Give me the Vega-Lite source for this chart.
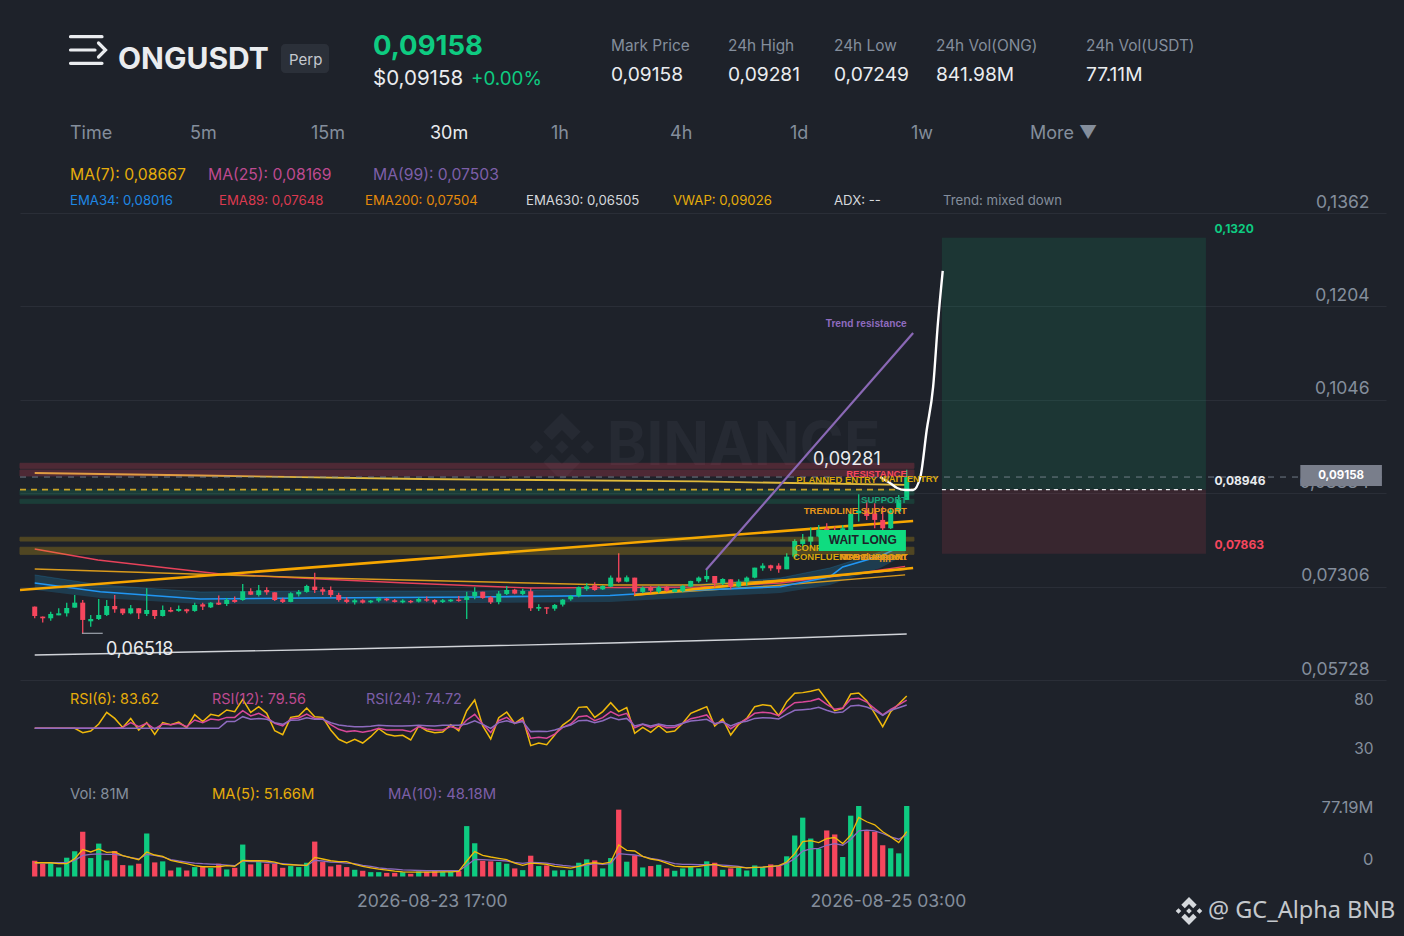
{
  "$schema": "https://vega.github.io/schema/vega-lite/v6.json",
  "width": 1366,
  "height": 936,
  "autosize": {"type": "none"},
  "padding": {"left": 20, "right": 18, "top": 0, "bottom": 0},
  "background": "#1e222a",
  "config": {"font": "Inter", "view": {"stroke": null}},
  "datasets": {
    "candles": [
      {"i":0,"o":0.06968,"h":0.06968,"l":0.06771,"c":0.0681,"v":18.1,"r6":51.65,"r12":51.65,"r24":51.65,"m5":15.8,"m10":15.8},
      {"i":1,"o":0.06799,"h":0.06799,"l":0.06698,"c":0.06771,"v":14.7,"r6":51.65,"r12":51.65,"r24":51.65,"m5":15.8,"m10":15.8},
      {"i":2,"o":0.06771,"h":0.06883,"l":0.06731,"c":0.06844,"v":15.4,"r6":51.65,"r12":51.65,"r24":51.65,"m5":15.8,"m10":15.8},
      {"i":3,"o":0.06821,"h":0.0694,"l":0.06821,"c":0.06855,"v":10.4,"r6":51.65,"r12":51.65,"r24":51.65,"m5":14.7,"m10":15.8},
      {"i":4,"o":0.06855,"h":0.07035,"l":0.06799,"c":0.06945,"v":21.6,"r6":51.65,"r12":51.65,"r24":51.65,"m5":14.7,"m10":15.8},
      {"i":5,"o":0.06951,"h":0.07165,"l":0.06951,"c":0.07035,"v":29,"r6":51.65,"r12":51.65,"r24":51.65,"m5":20.5,"m10":18.5},
      {"i":6,"o":0.07035,"h":0.0708,"l":0.06518,"c":0.06743,"v":51.3,"r6":47.4,"r12":51.65,"r24":51.65,"m5":30.9,"m10":24.3},
      {"i":7,"o":0.0672,"h":0.06827,"l":0.0663,"c":0.06759,"v":21.2,"r6":49,"r12":51.65,"r24":51.65,"m5":28.2,"m10":25.5},
      {"i":8,"o":0.06759,"h":0.07097,"l":0.06743,"c":0.06827,"v":37.8,"r6":55.9,"r12":51.65,"r24":51.65,"m5":31.7,"m10":25.9},
      {"i":9,"o":0.06827,"h":0.0708,"l":0.0681,"c":0.06979,"v":18.5,"r6":67.5,"r12":51.65,"r24":51.65,"m5":27.8,"m10":25.5},
      {"i":10,"o":0.06979,"h":0.07165,"l":0.06866,"c":0.06923,"v":29.3,"r6":61.5,"r12":51.65,"r24":51.65,"m5":28.2,"m10":25.5},
      {"i":11,"o":0.06934,"h":0.06934,"l":0.06827,"c":0.06855,"v":13.1,"r6":52.6,"r12":52.6,"r24":51.65,"m5":23.9,"m10":23.9},
      {"i":12,"o":0.06855,"h":0.06996,"l":0.06838,"c":0.0694,"v":12.7,"r6":61.5,"r12":57.3,"r24":51.65,"m5":21.6,"m10":21.6},
      {"i":13,"o":0.0694,"h":0.0694,"l":0.06759,"c":0.06855,"v":14.7,"r6":50,"r12":53.3,"r24":51.65,"m5":19.3,"m10":20.1},
      {"i":14,"o":0.06844,"h":0.07277,"l":0.0681,"c":0.06911,"v":49.4,"r6":57.3,"r12":56.6,"r24":51.65,"m5":28.2,"m10":25.5},
      {"i":15,"o":0.06911,"h":0.06911,"l":0.06759,"c":0.0681,"v":16.2,"r6":45.7,"r12":51,"r24":51.65,"m5":24.7,"m10":24.3},
      {"i":16,"o":0.0681,"h":0.06985,"l":0.06799,"c":0.06911,"v":17.4,"r6":57.3,"r12":55.9,"r24":51.65,"m5":23.2,"m10":22.4},
      {"i":17,"o":0.06911,"h":0.06956,"l":0.06872,"c":0.06883,"v":6.9,"r6":55.3,"r12":55.3,"r24":51.65,"m5":18.5,"m10":19.3},
      {"i":18,"o":0.06895,"h":0.06985,"l":0.06883,"c":0.06928,"v":10.4,"r6":57.9,"r12":56.6,"r24":51.65,"m5":16.6,"m10":17.8},
      {"i":19,"o":0.06923,"h":0.06934,"l":0.06855,"c":0.06889,"v":6.9,"r6":52.3,"r12":53.3,"r24":51.65,"m5":14.7,"m10":16.6},
      {"i":20,"o":0.06895,"h":0.07035,"l":0.06883,"c":0.06996,"v":10.8,"r6":65.2,"r12":59.9,"r24":51.65,"m5":12.4,"m10":15.4},
      {"i":21,"o":0.07007,"h":0.07035,"l":0.06911,"c":0.06968,"v":10.8,"r6":58.3,"r12":57.3,"r24":51.65,"m5":11.2,"m10":14.7},
      {"i":22,"o":0.06956,"h":0.07047,"l":0.06945,"c":0.07035,"v":9.7,"r6":65.5,"r12":60.9,"r24":51.65,"m5":11.2,"m10":14.3},
      {"i":23,"o":0.07035,"h":0.07154,"l":0.06996,"c":0.07002,"v":14.7,"r6":63.9,"r12":59.9,"r24":51.65,"m5":11.2,"m10":13.9},
      {"i":24,"o":0.07013,"h":0.07114,"l":0.06979,"c":0.0708,"v":8.1,"r6":69.8,"r12":62.5,"r24":58.3,"m5":12.4,"m10":13.1},
      {"i":25,"o":0.0708,"h":0.07137,"l":0.07035,"c":0.07047,"v":10,"r6":68.2,"r12":62.5,"r24":58.3,"m5":11.6,"m10":12.4},
      {"i":26,"o":0.0708,"h":0.07351,"l":0.07069,"c":0.07227,"v":36.7,"r6":80.4,"r12":69.1,"r24":63.2,"m5":18.5,"m10":17.8},
      {"i":27,"o":0.07227,"h":0.07277,"l":0.07165,"c":0.0717,"v":13.9,"r6":67.5,"r12":63.9,"r24":60.6,"m5":18.1,"m10":17},
      {"i":28,"o":0.07165,"h":0.07334,"l":0.07137,"c":0.07244,"v":16.6,"r6":73.1,"r12":66.5,"r24":61.5,"m5":18.1,"m10":17},
      {"i":29,"o":0.07249,"h":0.07294,"l":0.0717,"c":0.0721,"v":14.7,"r6":66.5,"r12":62.5,"r24":60.6,"m5":17.8,"m10":16.2},
      {"i":30,"o":0.0721,"h":0.0721,"l":0.07064,"c":0.0708,"v":14.7,"r6":49.3,"r12":56.6,"r24":57.3,"m5":16.6,"m10":15.4},
      {"i":31,"o":0.07092,"h":0.0712,"l":0.0703,"c":0.07047,"v":10,"r6":45.4,"r12":54,"r24":55.6,"m5":13.9,"m10":14.7},
      {"i":32,"o":0.07047,"h":0.0721,"l":0.07041,"c":0.07193,"v":12,"r6":62.5,"r12":60.9,"r24":59.6,"m5":13.5,"m10":13.9},
      {"i":33,"o":0.07176,"h":0.07249,"l":0.07137,"c":0.07216,"v":10.8,"r6":63.9,"r12":61.9,"r24":59.9,"m5":13.1,"m10":13.1},
      {"i":34,"o":0.07216,"h":0.07339,"l":0.07204,"c":0.07317,"v":15.8,"r6":71.8,"r12":65.8,"r24":62.2,"m5":12.7,"m10":12.4},
      {"i":35,"o":0.07306,"h":0.07542,"l":0.07199,"c":0.07249,"v":40.1,"r6":63.2,"r12":61.5,"r24":60.6,"m5":22,"m10":18.5},
      {"i":36,"o":0.07261,"h":0.07294,"l":0.07165,"c":0.07221,"v":16.6,"r6":62.5,"r12":60.9,"r24":60.6,"m5":20.1,"m10":17.8},
      {"i":37,"o":0.07249,"h":0.07306,"l":0.07126,"c":0.07165,"v":11.6,"r6":50,"r12":55.3,"r24":57.3,"m5":18.1,"m10":16.6},
      {"i":38,"o":0.07165,"h":0.07204,"l":0.07052,"c":0.07081,"v":13.5,"r6":40.8,"r12":50.7,"r24":54.9,"m5":17,"m10":16.2},
      {"i":39,"o":0.07086,"h":0.07126,"l":0.07024,"c":0.07047,"v":10.8,"r6":37.1,"r12":48.4,"r24":54,"m5":17,"m10":15.4},
      {"i":40,"o":0.07041,"h":0.07103,"l":0.07002,"c":0.07075,"v":7.7,"r6":40.8,"r12":49.3,"r24":53.3,"m5":13.9,"m10":14.7},
      {"i":41,"o":0.07075,"h":0.07092,"l":0.07019,"c":0.07036,"v":6.6,"r6":37.1,"r12":47.7,"r24":53.3,"m5":11.6,"m10":12.7},
      {"i":42,"o":0.07041,"h":0.07081,"l":0.07024,"c":0.07069,"v":5,"r6":43.4,"r12":49.3,"r24":53.6,"m5":10,"m10":11.6},
      {"i":43,"o":0.07069,"h":0.07126,"l":0.07041,"c":0.07109,"v":5,"r6":51.3,"r12":51.65,"r24":54.6,"m5":8.5,"m10":10},
      {"i":44,"o":0.07103,"h":0.07114,"l":0.07058,"c":0.07075,"v":4.2,"r6":45.7,"r12":50,"r24":54.3,"m5":7.3,"m10":8.9},
      {"i":45,"o":0.07075,"h":0.07097,"l":0.07036,"c":0.07047,"v":4.2,"r6":44.1,"r12":50,"r24":54,"m5":6.2,"m10":8.5},
      {"i":46,"o":0.07041,"h":0.07092,"l":0.07024,"c":0.07069,"v":5,"r6":44.7,"r12":50,"r24":54,"m5":5.4,"m10":7.7},
      {"i":47,"o":0.07064,"h":0.07081,"l":0.07024,"c":0.07041,"v":3.1,"r6":40.1,"r12":48.4,"r24":54.3,"m5":5,"m10":7.3},
      {"i":48,"o":0.07052,"h":0.07126,"l":0.07036,"c":0.07097,"v":5.8,"r6":54,"r12":53.3,"r24":54.6,"m5":5,"m10":6.9},
      {"i":49,"o":0.07092,"h":0.07137,"l":0.07052,"c":0.07069,"v":5.4,"r6":49.3,"r12":51,"r24":54.3,"m5":5,"m10":6.6},
      {"i":50,"o":0.07081,"h":0.07092,"l":0.07007,"c":0.07041,"v":6.2,"r6":47.4,"r12":50,"r24":54,"m5":5,"m10":6.6},
      {"i":51,"o":0.07047,"h":0.07097,"l":0.0703,"c":0.07075,"v":5.4,"r6":48,"r12":50,"r24":54.6,"m5":5.4,"m10":6.6},
      {"i":52,"o":0.07058,"h":0.07097,"l":0.07047,"c":0.07086,"v":5.4,"r6":55.3,"r12":53.3,"r24":54.6,"m5":5.4,"m10":6.6},
      {"i":53,"o":0.07086,"h":0.07148,"l":0.07052,"c":0.07064,"v":6.2,"r6":49.3,"r12":51.3,"r24":54.6,"m5":5.8,"m10":6.6},
      {"i":54,"o":0.07081,"h":0.07221,"l":0.0676,"c":0.07137,"v":57.9,"r6":69.1,"r12":59.9,"r24":55.9,"m5":17.8,"m10":12.7},
      {"i":55,"o":0.07143,"h":0.07294,"l":0.07092,"c":0.07216,"v":38.2,"r6":79.7,"r12":65.5,"r24":59.2,"m5":28.6,"m10":19.7},
      {"i":56,"o":0.07221,"h":0.07221,"l":0.07103,"c":0.07114,"v":18.1,"r6":54,"r12":55.9,"r24":55.6,"m5":24.3,"m10":19.3},
      {"i":57,"o":0.07126,"h":0.07148,"l":0.07013,"c":0.07041,"v":17.4,"r6":41.1,"r12":47.4,"r24":51.65,"m5":22.4,"m10":18.9},
      {"i":58,"o":0.07047,"h":0.07233,"l":0.07007,"c":0.07188,"v":16.6,"r6":62.2,"r12":59.2,"r24":57.3,"m5":20.8,"m10":18.5},
      {"i":59,"o":0.07182,"h":0.07317,"l":0.07165,"c":0.07249,"v":14.7,"r6":67.8,"r12":62.5,"r24":59.2,"m5":19.3,"m10":17.8},
      {"i":60,"o":0.07255,"h":0.07272,"l":0.07176,"c":0.07188,"v":9.3,"r6":56.6,"r12":56.6,"r24":56.6,"m5":15.4,"m10":16.2},
      {"i":61,"o":0.07182,"h":0.07272,"l":0.07159,"c":0.07233,"v":7.3,"r6":62.2,"r12":59.9,"r24":58.3,"m5":12.7,"m10":15.1},
      {"i":62,"o":0.07227,"h":0.07278,"l":0.06895,"c":0.0694,"v":23.9,"r6":34.5,"r12":41.8,"r24":48.4,"m5":15.4,"m10":16.2},
      {"i":63,"o":0.06934,"h":0.07007,"l":0.06895,"c":0.06962,"v":12,"r6":37.1,"r12":42.7,"r24":48.7,"m5":14.7,"m10":15.8},
      {"i":64,"o":0.06957,"h":0.06957,"l":0.06844,"c":0.06934,"v":12.7,"r6":35.5,"r12":41.8,"r24":48.4,"m5":13.9,"m10":15.4},
      {"i":65,"o":0.06934,"h":0.07013,"l":0.069,"c":0.06996,"v":6.9,"r6":45,"r12":46,"r24":50,"m5":11.6,"m10":13.9},
      {"i":66,"o":0.07002,"h":0.07097,"l":0.06968,"c":0.07086,"v":7.3,"r6":54.9,"r12":52.6,"r24":52.6,"m5":10.8,"m10":12.7},
      {"i":67,"o":0.07092,"h":0.07165,"l":0.07069,"c":0.07148,"v":7.3,"r6":60.6,"r12":55.9,"r24":54.9,"m5":9.7,"m10":12},
      {"i":68,"o":0.07148,"h":0.07306,"l":0.07126,"c":0.073,"v":15.8,"r6":72.4,"r12":63.2,"r24":59.2,"m5":11.6,"m10":11.6},
      {"i":69,"o":0.07266,"h":0.07362,"l":0.07238,"c":0.07311,"v":19.7,"r6":73.1,"r12":64.2,"r24":59.6,"m5":14.7,"m10":13.1},
      {"i":70,"o":0.07328,"h":0.07379,"l":0.07238,"c":0.07249,"v":18.5,"r6":62.5,"r12":59.2,"r24":57.3,"m5":15.8,"m10":14.7},
      {"i":71,"o":0.07261,"h":0.07328,"l":0.07249,"c":0.07317,"v":9.3,"r6":68.2,"r12":62.2,"r24":59.2,"m5":14.7,"m10":13.9},
      {"i":72,"o":0.07306,"h":0.07492,"l":0.07295,"c":0.07458,"v":21.2,"r6":77.1,"r12":68.2,"r24":62.5,"m5":16.6,"m10":14.7},
      {"i":73,"o":0.07458,"h":0.07869,"l":0.07373,"c":0.0739,"v":76.8,"r6":68.2,"r12":64.2,"r24":60.2,"m5":36.3,"m10":26.2},
      {"i":74,"o":0.0739,"h":0.07492,"l":0.07379,"c":0.07463,"v":17,"r6":72.1,"r12":66.5,"r24":61.5,"m5":30.1,"m10":25.5},
      {"i":75,"o":0.07458,"h":0.07458,"l":0.07165,"c":0.07221,"v":24.3,"r6":46.7,"r12":52.3,"r24":54,"m5":29.3,"m10":24.7},
      {"i":76,"o":0.07216,"h":0.07306,"l":0.07193,"c":0.07289,"v":10.4,"r6":52.6,"r12":55.6,"r24":55.9,"m5":23.2,"m10":23.2},
      {"i":77,"o":0.07295,"h":0.07317,"l":0.07193,"c":0.07238,"v":12,"r6":47.7,"r12":52.6,"r24":54,"m5":20.1,"m10":20.8},
      {"i":78,"o":0.07221,"h":0.07317,"l":0.07193,"c":0.07295,"v":13.5,"r6":54.3,"r12":55.3,"r24":55.9,"m5":18.5,"m10":19.3},
      {"i":79,"o":0.07306,"h":0.07317,"l":0.07221,"c":0.07238,"v":9.3,"r6":47.7,"r12":52.3,"r24":54.3,"m5":15.4,"m10":17},
      {"i":80,"o":0.07216,"h":0.07272,"l":0.07205,"c":0.07261,"v":6.6,"r6":49,"r12":52.6,"r24":54.3,"m5":12,"m10":14.7},
      {"i":81,"o":0.07233,"h":0.07334,"l":0.0721,"c":0.07317,"v":9.3,"r6":56.6,"r12":56.6,"r24":56.6,"m5":11.2,"m10":13.9},
      {"i":82,"o":0.07306,"h":0.07407,"l":0.07295,"c":0.07402,"v":10.8,"r6":66.5,"r12":61.2,"r24":58.9,"m5":11.2,"m10":13.9},
      {"i":83,"o":0.07396,"h":0.07475,"l":0.07373,"c":0.07458,"v":9.3,"r6":69.8,"r12":62.9,"r24":59.6,"m5":11.6,"m10":13.5},
      {"i":84,"o":0.0743,"h":0.07587,"l":0.07385,"c":0.07486,"v":17.4,"r6":73.1,"r12":64.9,"r24":60.6,"m5":13.1,"m10":13.5},
      {"i":85,"o":0.07486,"h":0.07486,"l":0.07295,"c":0.07362,"v":15.8,"r6":54,"r12":55.9,"r24":56.3,"m5":13.9,"m10":13.5},
      {"i":86,"o":0.07357,"h":0.07447,"l":0.07334,"c":0.07435,"v":7.7,"r6":60.9,"r12":58.6,"r24":57.9,"m5":11.6,"m10":13.1},
      {"i":87,"o":0.0743,"h":0.0743,"l":0.07261,"c":0.07306,"v":9.3,"r6":45,"r12":51.3,"r24":54,"m5":10.8,"m10":12.4},
      {"i":88,"o":0.07306,"h":0.0743,"l":0.07295,"c":0.0739,"v":10,"r6":55.6,"r12":56.6,"r24":57.3,"m5":10.8,"m10":11.6},
      {"i":89,"o":0.0739,"h":0.07475,"l":0.07317,"c":0.07458,"v":6.9,"r6":61.5,"r12":60.9,"r24":58.6,"m5":10,"m10":10},
      {"i":90,"o":0.07458,"h":0.07627,"l":0.07447,"c":0.07627,"v":12.7,"r6":73.1,"r12":66.5,"r24":61.5,"m5":10.4,"m10":10.4},
      {"i":91,"o":0.07616,"h":0.077,"l":0.07576,"c":0.07661,"v":10.8,"r6":75.1,"r12":67.5,"r24":62.2,"m5":10.8,"m10":10.8},
      {"i":92,"o":0.07666,"h":0.07677,"l":0.07576,"c":0.07616,"v":13.9,"r6":74.1,"r12":66.8,"r24":61.9,"m5":11.6,"m10":11.6},
      {"i":93,"o":0.07661,"h":0.077,"l":0.07542,"c":0.07599,"v":12.4,"r6":64.2,"r12":64.2,"r24":60.9,"m5":12.4,"m10":12},
      {"i":94,"o":0.07599,"h":0.07869,"l":0.07599,"c":0.07813,"v":23.2,"r6":78,"r12":71.4,"r24":65.5,"m5":16.6,"m10":15.1},
      {"i":95,"o":0.07813,"h":0.08105,"l":0.0779,"c":0.08077,"v":47.1,"r6":86.3,"r12":77.1,"r24":69.5,"m5":26.2,"m10":20.5},
      {"i":96,"o":0.08027,"h":0.08195,"l":0.07925,"c":0.08105,"v":67.6,"r6":87,"r12":77.7,"r24":70.1,"m5":40.1,"m10":29.3},
      {"i":97,"o":0.08067,"h":0.08309,"l":0.07954,"c":0.08151,"v":43.6,"r6":88.3,"r12":78.7,"r24":70.8,"m5":41.3,"m10":31.7},
      {"i":98,"o":0.08151,"h":0.08348,"l":0.0814,"c":0.08264,"v":32,"r6":90.3,"r12":81,"r24":72.4,"m5":39,"m10":32.4},
      {"i":99,"o":0.08292,"h":0.08376,"l":0.08151,"c":0.08208,"v":52.9,"r6":79.7,"r12":75.4,"r24":69.5,"m5":43.6,"m10":35.9},
      {"i":100,"o":0.08236,"h":0.0832,"l":0.08095,"c":0.08151,"v":48.3,"r6":69.1,"r12":70.5,"r24":67.2,"m5":44.8,"m10":37.8},
      {"i":101,"o":0.08179,"h":0.08348,"l":0.08123,"c":0.08292,"v":22.4,"r6":71.4,"r12":71.8,"r24":67.8,"m5":37.8,"m10":35.9},
      {"i":102,"o":0.08264,"h":0.08545,"l":0.08253,"c":0.08534,"v":69.9,"r6":85.6,"r12":80.7,"r24":73.8,"m5":47.5,"m10":42.5},
      {"i":103,"o":0.08545,"h":0.08866,"l":0.08405,"c":0.0859,"v":81,"r6":86.6,"r12":81.4,"r24":74.4,"m5":67.9,"m10":52.5},
      {"i":104,"o":0.08602,"h":0.08771,"l":0.08433,"c":0.085,"v":52.1,"r6":79,"r12":77.7,"r24":72.8,"m5":62.9,"m10":53.3},
      {"i":105,"o":0.08545,"h":0.08714,"l":0.08292,"c":0.08433,"v":51.3,"r6":66.5,"r12":71.1,"r24":69.5,"m5":59.4,"m10":52.5},
      {"i":106,"o":0.08433,"h":0.08658,"l":0.08264,"c":0.08292,"v":35.9,"r6":53.3,"r12":64.9,"r24":64.5,"m5":51.3,"m10":49.4},
      {"i":107,"o":0.08292,"h":0.0863,"l":0.08281,"c":0.0859,"v":32.4,"r6":68.2,"r12":70.5,"r24":69.5,"m5":45.5,"m10":45.5},
      {"i":108,"o":0.08574,"h":0.08855,"l":0.08545,"c":0.08771,"v":26.6,"r6":75.7,"r12":74.8,"r24":72.1,"m5":39,"m10":42.8},
      {"i":109,"o":0.08771,"h":0.09281,"l":0.08771,"c":0.09158,"v":81,"r6":83.62,"r12":79.56,"r24":74.72,"m5":51.66,"m10":48.18}
    ],
    "zonesRed": [
      {"i":-1.84,"i2":109.9,"price":0.0939,"price2":0.09306},
      {"i":-1.84,"i2":109.9,"price":0.09277,"price2":0.09176}
    ],
    "zonesTeal": [
      {"i":-1.84,"i2":109.9,"price":0.08939,"price2":0.08855},
      {"i":-1.84,"i2":109.9,"price":0.08782,"price2":0.08714}
    ],
    "zonesGold": [
      {"i":-1.84,"i2":109.9,"price":0.0814,"price2":0.08077},
      {"i":-1.84,"i2":109.9,"price":0.07971,"price2":0.07852}
    ],
    "ema34Band": [
      {"i":0,"price":0.07503,"price2":0.07249},
      {"i":8.2,"price":0.07334,"price2":0.07114},
      {"i":20.7,"price":0.07215,"price2":0.07012},
      {"i":34.4,"price":0.07232,"price2":0.07012},
      {"i":55.7,"price":0.07232,"price2":0.07029},
      {"i":71.9,"price":0.07266,"price2":0.07046},
      {"i":83.2,"price":0.0735,"price2":0.07131},
      {"i":93.2,"price":0.07452,"price2":0.07198},
      {"i":99.4,"price":0.07621,"price2":0.07334},
      {"i":105.7,"price":0.07891,"price2":0.07621},
      {"i":108.8,"price":0.08128,"price2":0.07841}
    ],
    "ema34": [
      {"i":0,"price":0.07367},
      {"i":8.2,"price":0.0722},
      {"i":20.7,"price":0.07097},
      {"i":34.4,"price":0.07114},
      {"i":55.7,"price":0.07131},
      {"i":71.9,"price":0.07156},
      {"i":83.2,"price":0.07249},
      {"i":93.2,"price":0.07305},
      {"i":99.4,"price":0.07474},
      {"i":101,"price":0.07638},
      {"i":105.7,"price":0.07824},
      {"i":108.8,"price":0.08016}
    ],
    "ema89": [
      {"i":0,"price":0.07942},
      {"i":7.9,"price":0.07756},
      {"i":23.2,"price":0.07519},
      {"i":35.7,"price":0.07435},
      {"i":45.7,"price":0.07372},
      {"i":61.9,"price":0.07283},
      {"i":83.2,"price":0.073},
      {"i":93.2,"price":0.07367},
      {"i":103.2,"price":0.07536},
      {"i":108.8,"price":0.07648}
    ],
    "ma99": [
      {"i":0,"price":0.07604},
      {"i":35.7,"price":0.07452},
      {"i":72,"price":0.07334},
      {"i":83.2,"price":0.07334},
      {"i":95.6,"price":0.07435},
      {"i":109,"price":0.076}
    ],
    "ema200": [
      {"i":74.9,"price":0.07165},
      {"i":92,"price":0.07317},
      {"i":108.8,"price":0.07504}
    ],
    "ema630": [
      {"i":0,"price":0.0615},
      {"i":36,"price":0.06243},
      {"i":72,"price":0.06353},
      {"i":91,"price":0.06421},
      {"i":109,"price":0.06505}
    ],
    "vwap": [
      {"i":0,"price":0.09226},
      {"i":20.7,"price":0.09184},
      {"i":48.2,"price":0.09125},
      {"i":83,"price":0.09083},
      {"i":109,"price":0.09026}
    ],
    "trendSupport": [
      {"i":-1.84,"price":0.07249},
      {"i":109.8,"price":0.08415}
    ],
    "confluenceSupport": [
      {"i":74.9,"price":0.07165},
      {"i":109.8,"price":0.07621}
    ],
    "trendResistance": [
      {"i":83.9,"price":0.07587},
      {"i":109.8,"price":0.11592}
    ],
    "projection": [
      {"i":105.66,"price":0.09159},
      {"i":106.9,"price":0.09057},
      {"i":107.8,"price":0.08973},
      {"i":108.8,"price":0.08939},
      {"i":109.8,"price":0.08939},
      {"i":110.7,"price":0.09159},
      {"i":111.5,"price":0.09953},
      {"i":112.3,"price":0.1068},
      {"i":112.9,"price":0.11761},
      {"i":113.5,"price":0.1264}
    ],
    "header": [
      {"text":"Perp","col":8,"line":3,"kind":"badge","tone":"badge"},
      {"text":"$0,09158","col":13,"line":6,"kind":"usd","tone":"white"},
      {"text":"+0.00%","col":16,"line":6,"kind":"change","tone":"green"},
      {"text":"Mark Price","col":21,"line":1,"kind":"statLabel","tone":"muted"},
      {"text":"24h High","col":24,"line":1,"kind":"statLabel","tone":"muted"},
      {"text":"24h Low","col":26,"line":1,"kind":"statLabel","tone":"muted"},
      {"text":"24h Vol(ONG)","col":28,"line":1,"kind":"statLabel","tone":"muted"},
      {"text":"24h Vol(USDT)","col":31,"line":1,"kind":"statLabel","tone":"muted"},
      {"text":"0,09158","col":21,"line":5,"kind":"statValue","tone":"white"},
      {"text":"0,09281","col":24,"line":5,"kind":"statValue","tone":"white"},
      {"text":"0,07249","col":26,"line":5,"kind":"statValue","tone":"white"},
      {"text":"841.98M","col":28,"line":5,"kind":"statValue","tone":"white"},
      {"text":"77.11M","col":31,"line":5,"kind":"statValue","tone":"white"},
      {"text":"Time","col":0,"line":7,"kind":"tab","tone":"muted"},
      {"text":"5m","col":3,"line":7,"kind":"tab","tone":"muted"},
      {"text":"15m","col":9,"line":7,"kind":"tab","tone":"muted"},
      {"text":"30m","col":15,"line":7,"kind":"tab","tone":"white"},
      {"text":"1h","col":18,"line":7,"kind":"tab","tone":"muted"},
      {"text":"4h","col":22,"line":7,"kind":"tab","tone":"muted"},
      {"text":"1d","col":25,"line":7,"kind":"tab","tone":"muted"},
      {"text":"1w","col":27,"line":7,"kind":"tab","tone":"muted"},
      {"text":"More ▼","col":30,"line":7,"kind":"tab","tone":"muted"},
      {"text":"MA(7): 0,08667","col":0,"line":8,"kind":"ma","tone":"gold"},
      {"text":"MA(25): 0,08169","col":4,"line":8,"kind":"ma","tone":"pink"},
      {"text":"MA(99): 0,07503","col":13,"line":8,"kind":"ma","tone":"purple"},
      {"text":"EMA34: 0,08016","col":0,"line":9,"kind":"ema","tone":"blue"},
      {"text":"EMA89: 0,07648","col":6,"line":9,"kind":"ema","tone":"red"},
      {"text":"EMA200: 0,07504","col":11,"line":9,"kind":"ema","tone":"orange"},
      {"text":"EMA630: 0,06505","col":17,"line":9,"kind":"ema","tone":"light"},
      {"text":"VWAP: 0,09026","col":23,"line":9,"kind":"ema","tone":"gold"},
      {"text":"ADX: --","col":26,"line":9,"kind":"ema","tone":"light"},
      {"text":"Trend: mixed down","col":29,"line":9,"kind":"ema","tone":"muted"},
      {"text":"RSI(6): 83.62","col":0,"line":11,"kind":"rsi","tone":"gold"},
      {"text":"RSI(12): 79.56","col":5,"line":11,"kind":"rsi","tone":"pink"},
      {"text":"RSI(24): 74.72","col":12,"line":11,"kind":"rsi","tone":"purple"},
      {"text":"Vol: 81M","col":0,"line":12,"kind":"vol","tone":"muted"},
      {"text":"MA(5): 51.66M","col":5,"line":12,"kind":"vol","tone":"gold"},
      {"text":"MA(10): 48.18M","col":14,"line":12,"kind":"vol","tone":"purple"}
    ]
  },
  "layer": [
    {
      "encoding": {
        "x": {"field": "i", "type": "quantitative", "scale": {"domain": [-1.84, 168.91], "padding": 0, "nice": false, "zero": false}, "axis": null},
        "y": {
          "field": "price",
          "type": "quantitative",
          "scale": {"domain": [0.05728, 0.1362], "range": [680, 213], "nice": false, "zero": false},
          "axis": {
            "orient": "right",
            "values": [0.1362, 0.1204, 0.1046, 0.08884, 0.07306, 0.05728],
            "labelExpr": "replace(format(datum.value, '.4r'), '.', ',')",
            "title": null,
            "domain": false,
            "ticks": false,
            "grid": true,
            "gridColor": "#2a2e37",
            "labelColor": "#848e9c",
            "labelFontSize": 17.5,
            "labelAlign": "right",
            "labelPadding": -17,
            "labelOffset": -11,
            "labelOverlap": false
          }
        }
      },
      "layer": [
        {
          "data": {"values": [{"i": -1.84}, {"i": 55.1}, {"i": 112.1}, {"i": 168.91}]},
          "mark": {"type": "rule", "color": "#2a2e37", "strokeWidth": 1},
          "encoding": {
            "y": {"datum": 0.1362, "type": "quantitative", "scale": {"domain": [0.05728, 0.1362], "range": [680, 213], "nice": false, "zero": false}, "axis": {"title": null, "orient": "right"}},
            "y2": {"datum": 0.024}
          }
        },
        {
          "data": {"values": [{"i": 71.5, "price": 0.09666, "text": "BINANCE"}]},
          "mark": {"type": "text", "align": "left", "baseline": "middle", "fontSize": 60, "fontWeight": "bold", "color": "#262a33"},
          "encoding": {"text": {"field": "text"}}
        },
        {
          "data": {"values": [{"i": 65.9, "price": 0.09666}]},
          "mark": {"type": "point", "filled": true, "size": 4600, "color": "#262a33", "opacity": 1, "shape": "M0,-1L0.55,-0.45L0.3,-0.2L0,-0.5L-0.3,-0.2L-0.55,-0.45ZM0,1L0.55,0.45L0.3,0.2L0,0.5L-0.3,0.2L-0.55,0.45ZM0,-0.2L0.2,0L0,0.2L-0.2,0ZM-0.75,-0.2L-0.55,0L-0.75,0.2L-0.95,0ZM0.75,-0.2L0.95,0L0.75,0.2L0.55,0Z"}
        },
        {
          "data": {"values": [{"i": 113.4, "i2": 146.4, "price": 0.132, "price2": 0.08946}]},
          "mark": {"type": "rect", "color": "#0ecb81", "opacity": 0.12},
          "encoding": {"x2": {"field": "i2"}, "y2": {"field": "price2"}}
        },
        {
          "data": {"values": [{"i": 113.4, "i2": 146.4, "price": 0.08946, "price2": 0.07863}]},
          "mark": {"type": "rect", "color": "#f6465d", "opacity": 0.12},
          "encoding": {"x2": {"field": "i2"}, "y2": {"field": "price2"}}
        },
        {
          "data": {"name": "ema34Band"},
          "mark": {"type": "area", "color": "#1e9ad6", "opacity": 0.22, "line": {"color": "#1e9ad6", "strokeWidth": 0.7, "opacity": 0.35}},
          "encoding": {"y2": {"field": "price2"}}
        },
        {"data": {"name": "ema630"}, "mark": {"type": "line", "color": "#d0d3d8", "strokeWidth": 1.4}},
        {"data": {"name": "vwap"}, "mark": {"type": "line", "color": "#e0b93c", "strokeWidth": 1.8}},
        {"data": {"name": "ema89"}, "mark": {"type": "line", "color": "#e8425a", "strokeWidth": 1.4}},
        {"data": {"name": "ma99"}, "mark": {"type": "line", "color": "#d99a1c", "strokeWidth": 1.4}},
        {"data": {"name": "ema200"}, "mark": {"type": "line", "color": "#d99a1c", "strokeWidth": 1.4}},
        {"data": {"name": "ema34"}, "mark": {"type": "line", "color": "#2196f3", "strokeWidth": 1.6}},
        {"data": {"name": "trendSupport"}, "mark": {"type": "line", "color": "#f7a600", "strokeWidth": 2.6}},
        {"data": {"name": "confluenceSupport"}, "mark": {"type": "line", "color": "#f7a600", "strokeWidth": 2.6}},
        {
          "data": {"name": "candles"},
          "mark": {"type": "rule", "strokeWidth": 1.3},
          "encoding": {
            "y": {"field": "h", "type": "quantitative", "scale": {"domain": [0.05728, 0.1362], "range": [680, 213], "nice": false, "zero": false}, "axis": {"title": null, "orient": "right"}},
            "y2": {"field": "l"},
            "color": {"condition": {"test": "datum.c >= datum.o", "value": "#0ecb81"}, "value": "#f6465d"}
          }
        },
        {
          "data": {"name": "candles"},
          "mark": {"type": "bar", "size": 5},
          "encoding": {
            "y": {"field": "o", "type": "quantitative", "scale": {"domain": [0.05728, 0.1362], "range": [680, 213], "nice": false, "zero": false}, "axis": {"title": null, "orient": "right"}},
            "y2": {"field": "c"},
            "color": {"condition": {"test": "datum.c >= datum.o", "value": "#0ecb81"}, "value": "#f6465d"}
          }
        },
        {
          "data": {"name": "zonesRed"},
          "mark": {"type": "rect", "color": "#e8425a", "opacity": 0.24, "stroke": "#e8425a", "strokeWidth": 1},
          "encoding": {"x2": {"field": "i2"}, "y2": {"field": "price2"}}
        },
        {
          "data": {"name": "zonesTeal"},
          "mark": {"type": "rect", "color": "#0ecb81", "opacity": 0.16, "stroke": "#0ecb81", "strokeWidth": 1},
          "encoding": {"x2": {"field": "i2"}, "y2": {"field": "price2"}}
        },
        {
          "data": {"name": "zonesGold"},
          "mark": {"type": "rect", "color": "#f0b90b", "opacity": 0.24, "stroke": "#f0b90b", "strokeWidth": 1},
          "encoding": {"x2": {"field": "i2"}, "y2": {"field": "price2"}}
        },
        {
          "data": {"values": [{"i": -1.84, "i2": 109.9, "price": 0.08946}]},
          "mark": {"type": "rule", "color": "#c9a227", "strokeWidth": 1.6, "strokeDash": [6, 5]},
          "encoding": {"x2": {"field": "i2"}}
        },
        {
          "data": {"values": [{"i": -1.84, "i2": 168.91, "price": 0.09158}]},
          "mark": {"type": "rule", "color": "#848e9c", "strokeWidth": 1, "strokeDash": [6, 6], "opacity": 0.8},
          "encoding": {"x2": {"field": "i2"}}
        },
        {
          "data": {"values": [{"i": 113.4, "i2": 146.4, "price": 0.08946}]},
          "mark": {"type": "rule", "color": "#eaecef", "strokeWidth": 1.2, "strokeDash": [4, 4]},
          "encoding": {"x2": {"field": "i2"}}
        },
        {
          "data": {"values": [{"i": 5.9, "i2": 8.5, "price": 0.06518}]},
          "mark": {"type": "rule", "color": "#b7bdc6", "strokeWidth": 1},
          "encoding": {"x2": {"field": "i2"}}
        },
        {"data": {"name": "trendResistance"}, "mark": {"type": "line", "color": "#8a68b5", "strokeWidth": 2.2}},
        {"data": {"name": "projection"}, "mark": {"type": "line", "color": "#ffffff", "strokeWidth": 2.4, "interpolate": "monotone"}},
        {
          "data": {"values": [
            {"i": 8.9, "price": 0.06235, "text": "0,06518"},
            {"i": 97.3, "price": 0.09446, "text": "0,09281"}
          ]},
          "mark": {"type": "text", "align": "left", "baseline": "middle", "fontSize": 18, "color": "#eaecef"},
          "encoding": {"text": {"field": "text"}}
        },
        {
          "data": {"values": [{"i": 109, "price": 0.11744, "text": "Trend resistance"}]},
          "mark": {"type": "text", "align": "right", "baseline": "middle", "font": "Liberation Sans", "fontWeight": "bold", "fontSize": 10.2, "color": "#8e6bbf"},
          "encoding": {"text": {"field": "text"}}
        },
        {
          "data": {"values": [{"i": 109, "price": 0.09209, "text": "RESISTANCE"}]},
          "mark": {"type": "text", "align": "right", "baseline": "middle", "font": "Liberation Sans", "fontWeight": "bold", "fontSize": 9.5, "color": "#f6465d"},
          "encoding": {"text": {"field": "text"}}
        },
        {
          "data": {"values": [
            {"i": 95.2, "price": 0.09108, "text": "PLANNED ENTRY"},
            {"i": 105.7, "price": 0.09125, "text": "WAIT ENTRY"},
            {"i": 95, "price": 0.07959, "text": "CONFLUENCE"},
            {"i": 94.8, "price": 0.07807, "text": "CONFLUENCE SUPPORT"}
          ]},
          "mark": {"type": "text", "align": "left", "baseline": "middle", "font": "Liberation Sans", "fontWeight": "bold", "fontSize": 9.5, "color": "#d9a50b"},
          "encoding": {"text": {"field": "text"}}
        },
        {
          "data": {"values": [{"i": 103.3, "price": 0.0877, "text": "SUPPORT"}]},
          "mark": {"type": "text", "align": "left", "baseline": "middle", "font": "Liberation Sans", "fontWeight": "bold", "fontSize": 9.5, "color": "#1aa37a"},
          "encoding": {"text": {"field": "text"}}
        },
        {
          "data": {"values": [
            {"i": 109, "price": 0.08584, "text": "TRENDLINE SUPPORT"},
            {"i": 109, "price": 0.07807, "text": "Trend support"},
            {"i": 108.6, "price": 0.07807, "text": "MA99 support"}
          ]},
          "mark": {"type": "text", "align": "right", "baseline": "middle", "font": "Liberation Sans", "fontWeight": "bold", "fontSize": 9.5, "color": "#e8961a"},
          "encoding": {"text": {"field": "text"}}
        },
        {
          "data": {"values": [{"i": 98, "i2": 108.9, "price": 0.08263, "price2": 0.07908}]},
          "mark": {"type": "rect", "color": "#0fdc80", "opacity": 1},
          "encoding": {"x2": {"field": "i2"}, "y2": {"field": "price2"}}
        },
        {
          "data": {"values": [{"i": 103.5, "price": 0.08094, "text": "WAIT LONG"}]},
          "mark": {"type": "text", "align": "center", "baseline": "middle", "font": "Liberation Sans", "fontWeight": "bold", "fontSize": 12, "color": "#1e2329"},
          "encoding": {"text": {"field": "text"}}
        },
        {
          "data": {"values": [
            {"i": 147.6, "price": 0.1335, "text": "0,1320", "level": "target"},
            {"i": 147.6, "price": 0.09091, "text": "0,08946", "level": "entry"},
            {"i": 147.6, "price": 0.08009, "text": "0,07863", "level": "stop"}
          ]},
          "mark": {"type": "text", "align": "left", "baseline": "middle", "fontWeight": "bold", "fontSize": 12, "dx": -1},
          "encoding": {
            "text": {"field": "text"},
            "color": {"condition": [{"test": "datum.level == 'target'", "value": "#0ecb81"}, {"test": "datum.level == 'stop'", "value": "#f6465d"}], "value": "#eaecef"}
          }
        },
        {
          "data": {"values": [{"i": 158.2, "i2": 168.4, "price": 0.09362, "price2": 0.09007}]},
          "mark": {"type": "rect", "color": "#797e8b", "opacity": 1},
          "encoding": {"x2": {"field": "i2"}, "y2": {"field": "price2"}}
        },
        {
          "data": {"values": [{"i": 163.3, "price": 0.09176, "text": "0,09158"}]},
          "mark": {"type": "text", "align": "center", "baseline": "middle", "fontWeight": "bold", "fontSize": 11.5, "color": "#ffffff"},
          "encoding": {"text": {"field": "text"}}
        }
      ]
    },
    {
      "data": {"name": "candles"},
      "encoding": {
        "x": {"field": "i", "type": "quantitative", "scale": {"domain": [-1.84, 168.91], "padding": 0, "nice": false, "zero": false}, "axis": null}
      },
      "layer": [
        {
          "data": {"values": [{"level": 3.5}]},
          "mark": {"type": "rule", "color": "#2a2e37", "strokeWidth": 1},
          "encoding": {
            "x": {"datum": -1.84, "type": "quantitative", "scale": {"domain": [-1.84, 168.91], "padding": 0, "nice": false, "zero": false}, "axis": null},
            "x2": {"datum": 168.91},
            "y": {
              "field": "level",
              "type": "quantitative",
              "scale": {"domain": [0, 100], "range": [780.5, 679.5], "nice": false, "zero": false},
              "axis": {
                "orient": "right",
                "values": [30, 80],
                "title": null,
                "domain": false,
                "ticks": false,
                "grid": false,
                "labelColor": "#848e9c",
                "labelFontSize": 15.5,
                "labelAlign": "right",
                "labelPadding": -13,
                "labelOffset": {"condition": {"test": "datum.value == 30", "value": -2}, "value": 0}
              }
            }
          }
        },
        {
          "mark": {"type": "line", "color": "#f0b90b", "strokeWidth": 1.5},
          "encoding": {"y": {"field": "r6", "type": "quantitative", "scale": {"domain": [0, 100], "range": [780.5, 679.5], "nice": false, "zero": false}, "axis": {"title": null, "orient": "right"}}}
        },
        {
          "mark": {"type": "line", "color": "#d9489a", "strokeWidth": 1.5},
          "encoding": {"y": {"field": "r12", "type": "quantitative", "scale": {"domain": [0, 100], "range": [780.5, 679.5], "nice": false, "zero": false}, "axis": {"title": null, "orient": "right"}}}
        },
        {
          "mark": {"type": "line", "color": "#8e6bbf", "strokeWidth": 1.5},
          "encoding": {"y": {"field": "r24", "type": "quantitative", "scale": {"domain": [0, 100], "range": [780.5, 679.5], "nice": false, "zero": false}, "axis": {"title": null, "orient": "right"}}}
        }
      ]
    },
    {
      "data": {"name": "candles"},
      "encoding": {
        "x": {
          "field": "i",
          "type": "quantitative",
          "scale": {"domain": [-1.84, 168.91], "padding": 0, "nice": false, "zero": false},
          "axis": {
            "orient": "bottom",
            "values": [55.1, 112.1],
            "labelExpr": "datum.value < 100 ? '2026-08-23 17:00' : '2026-08-25 03:00'",
            "title": null,
            "domain": false,
            "ticks": false,
            "grid": false,
            "labelColor": "#848e9c",
            "labelFontSize": 17.5,
            "labelBaseline": "middle",
            "labelPadding": -35,
            "labelOffset": -43.7,
            "labelOverlap": false,
            "labelFlush": false
          }
        }
      },
      "layer": [
        {
          "data": {"values": [{"level": 0}]},
          "mark": {"type": "rule", "color": "#2a2e37", "strokeWidth": 1},
          "encoding": {
            "x": {"datum": -1.84, "type": "quantitative", "scale": {"domain": [-1.84, 168.91], "padding": 0, "nice": false, "zero": false}},
            "x2": {"datum": 168.91},
            "y": {
              "field": "level",
              "type": "quantitative",
              "scale": {"domain": [0, 81], "range": [876.5, 806], "nice": false, "zero": false},
              "axis": {
                "orient": "right",
                "values": [0, 77.19],
                "labelExpr": "datum.value == 0 ? '0' : '77.19M'",
                "title": null,
                "domain": false,
                "ticks": false,
                "grid": false,
                "labelColor": "#848e9c",
                "labelFontSize": 16.5,
                "labelAlign": "right",
                "labelPadding": -13,
                "labelOffset": {"condition": {"test": "datum.value == 0", "value": -17}, "value": -2},
                "labelOverlap": false
              }
            }
          }
        },
        {
          "mark": {"type": "bar", "size": 5.3},
          "encoding": {
            "y": {"field": "v", "type": "quantitative", "scale": {"domain": [0, 81], "range": [876.5, 806], "nice": false, "zero": false}, "axis": {"title": null, "orient": "right"}, "stack": null},
            "color": {"condition": {"test": "datum.c >= datum.o", "value": "#0ecb81"}, "value": "#f6465d"}
          }
        },
        {
          "mark": {"type": "line", "color": "#8e6bbf", "strokeWidth": 1.3},
          "encoding": {"y": {"field": "m10", "type": "quantitative", "scale": {"domain": [0, 81], "range": [876.5, 806], "nice": false, "zero": false}, "axis": {"title": null, "orient": "right"}}}
        },
        {
          "mark": {"type": "line", "color": "#f0b90b", "strokeWidth": 1.3},
          "encoding": {"y": {"field": "m5", "type": "quantitative", "scale": {"domain": [0, 81], "range": [876.5, 806], "nice": false, "zero": false}, "axis": {"title": null, "orient": "right"}}}
        }
      ]
    },
    {
      "encoding": {
        "x": {
          "field": "col",
          "type": "quantitative",
          "scale": {
            "domain": [0,1,2,3,4,5,6,7,8,9,10,11,12,13,14,15,16,17,18,19,20,21,22,23,24,25,26,27,28,29,30,31,32,33],
            "range": [50,68,98,170,188,192,199,261,269,291,309,345,346,353,368,410,451,506,531,542,587,591,650,653,708,770,814,891,916,923,1010,1066,1169,1188],
            "nice": false,
            "zero": false
          },
          "axis": null
        },
        "y": {
          "field": "line",
          "type": "quantitative",
          "scale": {
            "domain": [0,1,2,3,4,5,6,7,8,9,10,11,12,13],
            "range": [44,46,50,60,73,75,79,134,175,201,447,700,795,911],
            "nice": false,
            "zero": false
          },
          "axis": null
        }
      },
      "layer": [
        {
          "data": {"values": [{"col": 7, "col2": 10, "line": 0, "line2": 4}]},
          "mark": {"type": "rect", "color": "#2b3039", "cornerRadius": 4},
          "encoding": {"x2": {"field": "col2"}, "y2": {"field": "line2"}}
        },
        {
          "data": {"values": [{"col": 1, "line": 2}]},
          "mark": {"type": "point", "filled": false, "size": 1225, "color": "#eaecef", "strokeWidth": 3.2, "strokeCap": "round", "opacity": 1, "shape": "M-1,-0.76L0.8,-0.76M-1,0L0.4,0M-1,0.76L0.8,0.76M0.6,-0.4L1,0L0.6,0.4"}
        },
        {
          "data": {"values": [{"col": 2, "line": 3, "text": "ONGUSDT"}]},
          "mark": {"type": "text", "align": "left", "baseline": "middle", "fontWeight": "bold", "fontSize": 30, "color": "#eaecef"},
          "encoding": {"text": {"field": "text"}}
        },
        {
          "data": {"values": [{"col": 13, "line": 1, "text": "0,09158"}]},
          "mark": {"type": "text", "align": "left", "baseline": "middle", "dy": 1, "fontWeight": "bold", "fontSize": 27.5, "color": "#0ecb81"},
          "encoding": {"text": {"field": "text"}}
        },
        {
          "data": {"name": "header"},
          "mark": {"type": "text", "align": "left", "baseline": "middle"},
          "encoding": {
            "text": {"field": "text"},
            "size": {
              "field": "kind",
              "type": "ordinal",
              "scale": {
                "type": "ordinal",
                "domain": ["badge", "usd", "change", "statLabel", "statValue", "tab", "ma", "ema", "rsi", "vol"],
                "range": [15, 20.5, 18.8, 15.4, 19.2, 18, 15.7, 13.2, 14.4, 14.8]
              },
              "legend": null
            },
            "color": {
              "field": "tone",
              "type": "nominal",
              "scale": {
                "domain": ["white", "muted", "green", "gold", "pink", "purple", "blue", "red", "orange", "light", "badge"],
                "range": ["#eaecef", "#848e9c", "#0ecb81", "#e6ad0a", "#bd4a90", "#7d5fa8", "#1e88e5", "#dc3a50", "#e58a0a", "#d5d8dc", "#c5c9cf"]
              },
              "legend": null
            }
          }
        },
        {
          "data": {"values": [{"col": 32, "line": 13}]},
          "mark": {"type": "point", "filled": true, "size": 784, "color": "#d5d8dc", "opacity": 1, "shape": "M0,-1L0.55,-0.45L0.3,-0.2L0,-0.5L-0.3,-0.2L-0.55,-0.45ZM0,1L0.55,0.45L0.3,0.2L0,0.5L-0.3,0.2L-0.55,0.45ZM0,-0.2L0.2,0L0,0.2L-0.2,0ZM-0.75,-0.2L-0.55,0L-0.75,0.2L-0.95,0ZM0.75,-0.2L0.95,0L0.75,0.2L0.55,0Z"}
        },
        {
          "data": {"values": [{"col": 33, "line": 13, "text": "@ GC_Alpha BNB"}]},
          "mark": {"type": "text", "align": "left", "baseline": "middle", "font": "Noto Sans", "fontSize": 23.5, "color": "#c4c8cc"},
          "encoding": {"text": {"field": "text"}}
        }
      ]
    }
  ],
  "resolve": {
    "scale": {"x": "independent", "y": "independent"},
    "axis": {"x": "independent", "y": "independent"}
  }
}
